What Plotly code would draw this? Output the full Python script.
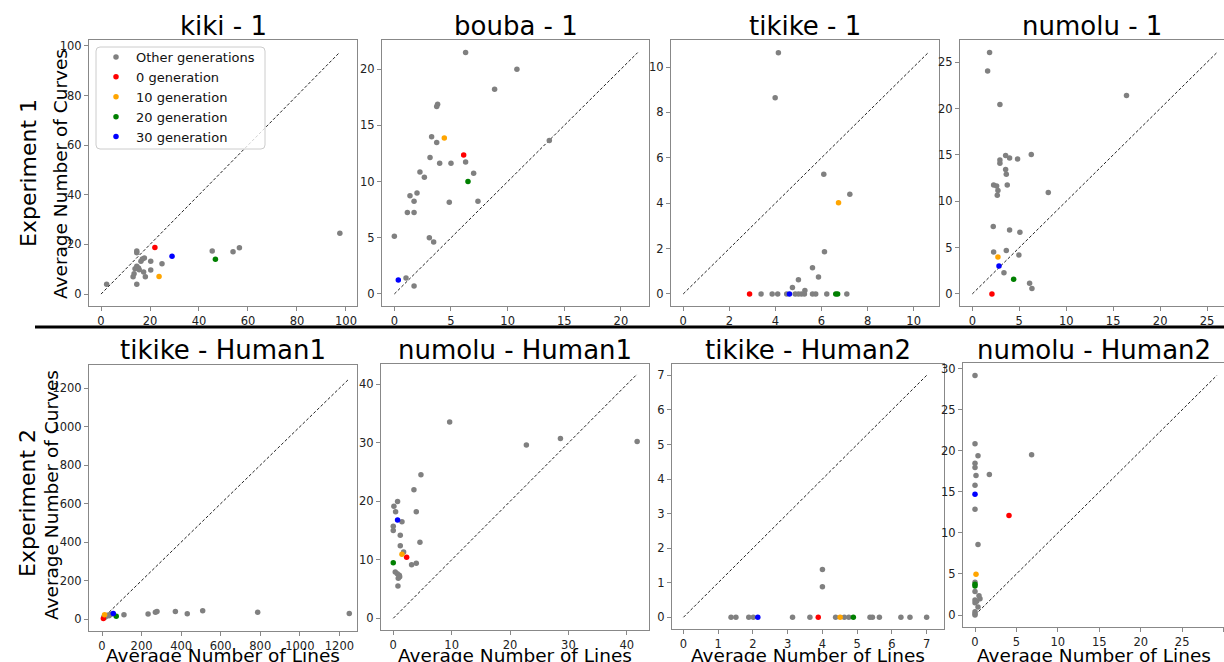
import plotly.graph_objects as go

W, H = 1224, 662

# ---------------- data ----------------
# Experiment 1
kiki1_other_x = [2.3, 14.6, 14.6, 17.7, 16.9, 16.3, 20.3, 24.9, 14.6, 15.3, 13.9, 15.6, 20.3, 17.4, 13.5, 13.1, 18.1, 14.6, 45.4, 53.9, 56.5, 97.5]
kiki1_other_y = [4.0, 17.4, 16.7, 14.5, 14.1, 13.2, 13.2, 12.2, 11.2, 10.5, 10.2, 9.8, 9.7, 8.9, 8.2, 7.0, 7.0, 4.0, 17.4, 17.1, 18.7, 24.5]
kiki1_gen_x = [22.0, 23.7, 46.7, 29.0]
kiki1_gen_y = [18.8, 7.1, 14.0, 15.3]
kiki1_gen_lab = [0, 10, 20, 30]

bouba1_other_x = [6.29, 10.82, 8.85, 3.82, 3.74, 3.29, 3.74, 3.15, 6.29, 4.0, 5.0, 7.0, 2.26, 2.65, 2.0, 1.38, 1.74, 4.85, 7.38, 1.15, 1.74, 0.0, 3.09, 3.47, 1.03, 1.74, 13.68]
bouba1_other_y = [21.48, 20.0, 18.22, 16.88, 16.68, 14.0, 13.47, 12.14, 11.75, 11.63, 11.63, 10.74, 10.86, 10.39, 8.99, 8.75, 8.25, 8.16, 8.25, 7.24, 7.24, 5.13, 5.01, 4.63, 1.42, 0.71, 13.65]
bouba1_gen_x = [6.12, 4.41, 6.5, 0.35]
bouba1_gen_y = [12.37, 13.89, 10.0, 1.25]
bouba1_gen_lab = [0, 10, 20, 30]

tikike1_other_x = [4.13, 3.99, 6.10, 7.23, 6.13, 5.61, 5.87, 5.0, 4.74, 5.28, 3.38, 3.86, 4.10, 4.49, 4.86, 5.0, 5.13, 5.26, 5.61, 5.75, 6.23, 7.1]
tikike1_other_y = [10.63, 8.65, 5.27, 4.39, 1.86, 1.15, 0.75, 0.63, 0.28, 0.15, 0, 0, 0, 0, 0, 0, 0, 0, 0, 0, 0, 0]
tikike1_gen_x = [2.88, 6.74, 6.62, 6.70, 4.61]
tikike1_gen_y = [0.0, 4.02, 0.0, 0.0, 0.0]
tikike1_gen_lab = [0, 10, 20, 20, 30]

numolu1_other_x = [1.84, 1.63, 2.94, 16.42, 3.55, 3.97, 4.82, 6.28, 2.94, 2.94, 3.55, 3.62, 2.27, 2.59, 3.72, 2.73, 2.66, 8.09, 2.23, 3.97, 5.07, 2.27, 3.62, 4.96, 3.37, 6.1, 6.35]
numolu1_other_y = [26.04, 24.06, 20.43, 21.4, 14.93, 14.68, 14.57, 15.04, 14.46, 14.1, 13.42, 12.91, 11.76, 11.65, 11.76, 11.15, 10.65, 10.94, 7.27, 6.91, 6.65, 4.53, 4.68, 4.21, 2.30, 1.15, 0.58]
numolu1_gen_x = [2.09, 2.73, 4.40, 2.84]
numolu1_gen_y = [0.0, 3.99, 1.58, 3.02]
numolu1_gen_lab = [0, 10, 20, 30]

# Experiment 2
tikikeH1_other_x = [111, 233, 270, 278, 371, 431, 509, 787, 1250, 15, 20, 25, 30, 35, 40, 10, 45]
tikikeH1_other_y = [22.5, 26, 35, 40, 40, 28, 43, 35, 29, 10, 15, 18, 20, 17, 22, 12, 25]
tikikeH1_gen_x = [7, 13, 72, 57]
tikikeH1_gen_y = [3.5, 22, 15, 29]
tikikeH1_gen_lab = [0, 10, 20, 30]

numoluH1_other_x = [9.66, 22.8, 28.63, 41.77, 4.74, 3.54, 3.94, 0.74, 0.11, 0.4, 0.0, 0.0, 1.49, 1.2, 1.2, 4.57, 1.77, 3.14, 3.94, 0.34, 0.69, 1.03, 0.86, 0.8, 1.1]
numoluH1_other_y = [33.56, 29.63, 30.77, 30.26, 24.56, 21.99, 18.23, 20.0, 19.15, 18.23, 15.73, 15.04, 16.52, 14.19, 12.42, 12.99, 11.34, 9.17, 9.4, 7.92, 7.64, 7.35, 6.84, 5.53, 7.1]
numoluH1_gen_x = [2.29, 1.49, 0.0, 0.74]
numoluH1_gen_y = [10.43, 10.94, 9.52, 16.81]
numoluH1_gen_lab = [0, 10, 20, 30]

tikikeH2_other_x = [4.0, 4.0, 1.37, 1.51, 1.88, 2.01, 3.14, 3.64, 4.38, 4.63, 4.76, 5.37, 5.44, 5.64, 6.26, 6.52, 7.0]
tikikeH2_other_y = [1.38, 0.88, 0, 0, 0, 0, 0, 0, 0, 0, 0, 0, 0, 0, 0, 0, 0]
tikikeH2_gen_x = [3.88, 4.51, 4.89, 2.14]
tikikeH2_gen_y = [0.0, 0.0, 0.0, 0.0]
tikikeH2_gen_lab = [0, 10, 20, 30]

numoluH2_other_x = [0, 0, 6.83, 0.36, 0, 0, 0.12, 1.73, 0, 0, 0.36, 0, 0, 0.48, 0.6, 0, 0.2, 0, 0.36, 0, 0, 0]
numoluH2_other_y = [29.19, 20.85, 19.51, 19.39, 18.5, 17.97, 16.99, 17.11, 15.81, 12.89, 8.58, 3.98, 2.85, 2.36, 1.99, 1.83, 1.67, 1.5, 0.98, 0.41, 0.16, 0.0]
numoluH2_gen_x = [4.1, 0.12, 0.0, 0.0, 0.0]
numoluH2_gen_y = [12.11, 4.96, 3.74, 3.54, 14.72]
numoluH2_gen_lab = [0, 10, 20, 20, 30]

titles = ["kiki - 1", "bouba - 1", "tikike - 1", "numolu - 1",
          "tikike - Human1", "numolu - Human1", "tikike - Human2", "numolu - Human2"]
gen_labels = [0, 10, 20, 30]
gen_colors = {0: "red", 10: "orange", 20: "green", 30: "blue"}
other_color = "gray"
row_labels = ["Experiment 1", "Experiment 2"]
ylabel = "Average Number of Curves"
xlabel = "Average Number of Lines"

series = [
    (kiki1_other_x, kiki1_other_y, kiki1_gen_x, kiki1_gen_y, kiki1_gen_lab),
    (bouba1_other_x, bouba1_other_y, bouba1_gen_x, bouba1_gen_y, bouba1_gen_lab),
    (tikike1_other_x, tikike1_other_y, tikike1_gen_x, tikike1_gen_y, tikike1_gen_lab),
    (numolu1_other_x, numolu1_other_y, numolu1_gen_x, numolu1_gen_y, numolu1_gen_lab),
    (tikikeH1_other_x, tikikeH1_other_y, tikikeH1_gen_x, tikikeH1_gen_y, tikikeH1_gen_lab),
    (numoluH1_other_x, numoluH1_other_y, numoluH1_gen_x, numoluH1_gen_y, numoluH1_gen_lab),
    (tikikeH2_other_x, tikikeH2_other_y, tikikeH2_gen_x, tikikeH2_gen_y, tikikeH2_gen_lab),
    (numoluH2_other_x, numoluH2_other_y, numoluH2_gen_x, numoluH2_gen_y, numoluH2_gen_lab),
]

# ---------------- layout per panel (pixel boxes, ranges, tick step) ----------------
boxes = [(89, 357, 40, 306), (382, 649, 40, 306), (671, 939, 40, 306), (960, 1224, 40, 306),
         (89, 357, 365, 631), (381, 649, 364, 630), (672, 944, 364, 629), (963, 1224, 363, 627)]
xranges = [(-4.9, 104.5), (-1.09, 22.48), (-0.53, 11.1), (-1.31, 26.8),
           (-65.7, 1289), (-2.1, 43.8), (-0.33, 7.5), (-1.45, 30.05)]
yranges = [(-4.8, 102.4), (-1.07, 22.6), (-0.53, 11.19), (-1.3, 27.4),
           (-62, 1321), (-2.0, 43.5), (-0.34, 7.33), (-1.46, 30.7)]
dticks = [20, 5, 2, 5, 200, 10, 1, 5]
cut_right = [False, False, False, True, False, False, False, True]

FONT = "DejaVu Sans"
fig = go.Figure()
layout = dict(
    width=W, height=H, margin=dict(l=0, r=0, t=0, b=0),
    paper_bgcolor="white", plot_bgcolor="white",
    font=dict(family=FONT, color="black"),
    showlegend=True,
    legend=dict(x=96 / W, y=1 - 42 / H, xanchor="left", yanchor="top",
                bgcolor="rgba(0,0,0,0)", borderwidth=0,
                font=dict(size=13, family=FONT, color="#111"), tracegroupgap=0,
                itemsizing="trace"),
)
annotations = []
shapes = []

for i, (ox, oy, gx, gy, gl) in enumerate(series):
    k = i + 1
    xa = "x" if k == 1 else f"x{k}"
    ya = "y" if k == 1 else f"y{k}"
    x0, x1, y0, y1 = boxes[i]
    m = max(max(ox), max(oy), max(gx), max(gy))
    fig.add_trace(go.Scatter(x=[0, m], y=[0, m], mode="lines", xaxis=xa, yaxis=ya,
                             line=dict(color="#222", width=1, dash="3px,2px"),
                             showlegend=False, hoverinfo="skip"))
    fig.add_trace(go.Scatter(x=ox, y=oy, mode="markers", xaxis=xa, yaxis=ya,
                             marker=dict(color=other_color, size=5.5),
                             name="Other generations", legendgroup="other",
                             showlegend=(i == 0)))
    for g in gen_labels:
        xs = [a for a, lab in zip(gx, gl) if lab == g]
        ys = [b for b, lab in zip(gy, gl) if lab == g]
        fig.add_trace(go.Scatter(x=xs, y=ys, mode="markers", xaxis=xa, yaxis=ya,
                                 marker=dict(color=gen_colors[g], size=5.5),
                                 name=f"{g} generation", legendgroup=f"g{g}",
                                 showlegend=(i == 0)))
    axcommon = dict(showgrid=False, zeroline=False, showline=True, linecolor="#888",
                    linewidth=1, ticks="outside", ticklen=4, tickcolor="#888",
                    tickfont=dict(size=11.5, family=FONT, color="#222"))
    xkey = "xaxis" if k == 1 else f"xaxis{k}"
    ykey = "yaxis" if k == 1 else f"yaxis{k}"
    layout[xkey] = dict(axcommon, domain=[x0 / W, min(x1 / W, 1.0)], range=list(xranges[i]),
                        dtick=dticks[i], tick0=0, anchor=ya, mirror=True)
    layout[ykey] = dict(axcommon, domain=[1 - y1 / H, 1 - y0 / H], range=list(yranges[i]),
                        dtick=dticks[i], tick0=0, anchor=xa, mirror=not cut_right[i])
    # panel title
    ty = 26 if i < 4 else 350
    annotations.append(dict(text=titles[i], x=(x0 + x1) / 2 / W, y=1 - ty / H,
                            xref="paper", yref="paper", showarrow=False,
                            xanchor="center", yanchor="middle",
                            font=dict(size=26, family=FONT, color="black")))
    if i >= 4:
        annotations.append(dict(text=xlabel, x=(x0 + x1) / 2 / W, y=1 - 655 / H,
                                xref="paper", yref="paper", showarrow=False,
                                xanchor="center", yanchor="middle",
                                font=dict(size=18.5, family=FONT, color="black")))

# row labels
for (cy_exp, cy_lab, lx, lab) in [(173, 174, 61, row_labels[0]), (503, 495, 51, row_labels[1])]:
    annotations.append(dict(text=lab, x=28 / W, y=1 - cy_exp / H, xref="paper", yref="paper",
                            showarrow=False, textangle=-90, xanchor="center", yanchor="middle",
                            font=dict(size=22, family=FONT, color="black")))
    annotations.append(dict(text=ylabel, x=lx / W, y=1 - cy_lab / H, xref="paper", yref="paper",
                            showarrow=False, textangle=-90, xanchor="center", yanchor="middle",
                            font=dict(size=18.5, family=FONT, color="black")))

# legend frame (rounded box like the reference)
lx0, lx1, ly0, ly1, rr = 96, 265, 47, 149, 4
def px(x):
    return x / W
def py(y):
    return 1 - y / H
path = (f"M {px(lx0 + rr)},{py(ly0)} L {px(lx1 - rr)},{py(ly0)} "
        f"Q {px(lx1)},{py(ly0)} {px(lx1)},{py(ly0 + rr)} L {px(lx1)},{py(ly1 - rr)} "
        f"Q {px(lx1)},{py(ly1)} {px(lx1 - rr)},{py(ly1)} L {px(lx0 + rr)},{py(ly1)} "
        f"Q {px(lx0)},{py(ly1)} {px(lx0)},{py(ly1 - rr)} L {px(lx0)},{py(ly0 + rr)} "
        f"Q {px(lx0)},{py(ly0)} {px(lx0 + rr)},{py(ly0)} Z")
shapes.append(dict(type="path", xref="paper", yref="paper", path=path, layer="above",
                   fillcolor="rgba(255,255,255,0.8)", line=dict(color="#cccccc", width=1)))

# separator line between experiments
shapes.append(dict(type="line", xref="paper", yref="paper", x0=35 / W, x1=1.0,
                   y0=1 - 327 / H, y1=1 - 327 / H, line=dict(color="black", width=3)))

layout["annotations"] = annotations
layout["shapes"] = shapes
fig.update_layout(**layout)
fig.write_html("out.html", config={"displayModeBar": False},
               post_script="document.body.style.margin='0px';document.body.style.overflow='hidden';")
